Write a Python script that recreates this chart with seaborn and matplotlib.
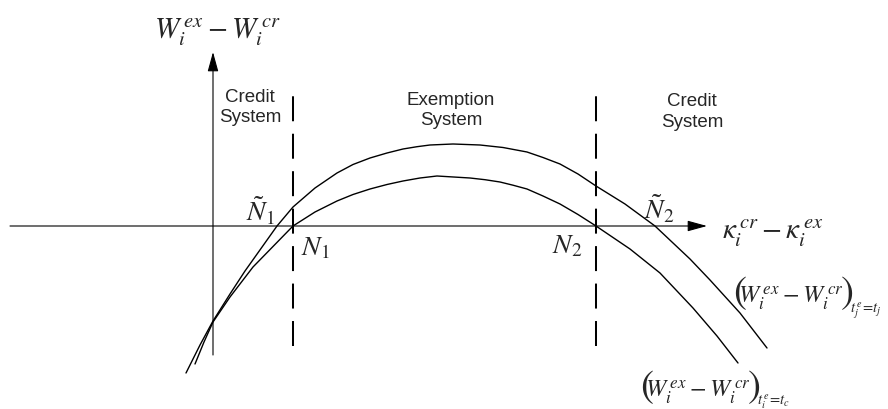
import matplotlib.pyplot as plt
import seaborn as sns

# schematic units: origin where the two axes cross, y upwards (1 unit ~ 1 px)
# outer curve  (W_i^ex - W_i^cr) for t_j^e = t_j
tilde_x = [-27, -13, 0, 17, 32, 64, 80, 102, 124, 140, 157, 174, 190, 204,
           217, 240, 267, 290, 314, 330, 347, 365, 383, 412, 442, 477, 497,
           527, 554]
tilde_y = [-147, -119, -95, -68, -45, 0, 19, 38, 53, 61.5, 68, 73, 77, 79.3,
           81, 82, 81, 78.5, 74, 68.5, 62, 52, 40, 22, 0, -33, -54,
           -87, -122]

# inner curve (W_i^ex - W_i^cr) for t_i^e = t_c
base_x = [-18, -9, 0, 17, 40, 80, 102, 124, 140, 157, 174, 190, 207, 224,
          257, 272, 287, 300, 314, 330, 347, 365, 383, 417, 447, 480, 504,
          525]
base_y = [-138, -116, -96, -71, -41, 0, 14, 25, 31.5, 37, 41.5, 45, 48, 50,
          48, 46.3, 44, 40.8, 37, 30, 22, 11.5, 0, -23, -47, -82, -110,
          -137]

# thresholds N1, N2 (dashed borders between the regimes)
thresholds = [80, 383]
regime_labels = ['Credit\nSystem', 'Exemption\nSystem', 'Credit\nSystem']

sns.set_style('white')
plt.rcParams['mathtext.fontset'] = 'stix'
plt.rcParams['font.family'] = ['Liberation Sans', 'DejaVu Sans']

fig = plt.figure(figsize=(8.88, 4.10), dpi=100)
ax = fig.add_axes([0, 0, 1, 1])
ax.set_xlim(-213, 675)
ax.set_ylim(-183, 227)
ax.axis('off')

# the two welfare-difference curves
sns.lineplot(x=tilde_x, y=tilde_y, ax=ax, color='black', linewidth=1.0,
             sort=False, estimator=None)
sns.lineplot(x=base_x, y=base_y, ax=ax, color='black', linewidth=1.0,
             sort=False, estimator=None)

# dashed regime borders
ax.vlines(thresholds, -120, 138, colors='black', linewidth=1.45,
          linestyles=(0, (12.4, 6.2)))

# coordinate axes with arrow heads
arrow = dict(arrowstyle='-|>,head_length=1.2,head_width=0.33',
             mutation_scale=10, lw=0.8, color='black',
             shrinkA=0, shrinkB=0)
ax.annotate('', xy=(494, 0), xytext=(-203, 0), arrowprops=arrow)
ax.annotate('', xy=(0, 174), xytext=(0, -129), arrowprops=arrow)

# axis titles
ax.text(68, 189, r'$W_i^{\,ex}-W_i^{\,cr}$', fontsize=21,
        ha='right', va='baseline')
ax.text(509, -12, r'$\kappa_i^{\,cr}-\kappa_i^{\,ex}$', fontsize=21,
        ha='left', va='baseline')

# regime names
ax.text(37, 119.5, regime_labels[0], fontsize=13.5, ha='center',
        va='center', linespacing=1.3)
ax.text(238, 116.5, regime_labels[1], fontsize=13.5, ha='center',
        va='center', linespacing=1.3)
ax.text(479, 115.3, regime_labels[2], fontsize=13.5, ha='center',
        va='center', linespacing=1.3)

# roots
ax.text(33, 6, r'$\tilde{N}_1$', fontsize=20, ha='left', va='baseline')
ax.text(88, -28, r'$N_1$', fontsize=20, ha='left', va='baseline')
ax.text(339, -26, r'$N_2$', fontsize=20, ha='left', va='baseline')
ax.text(431, 8, r'$\tilde{N}_2$', fontsize=20, ha='left', va='baseline')

# curve names: big parentheses, body and a small subscript, set one after another
fig.canvas.draw()
renderer = fig.canvas.get_renderer()
inv = ax.transData.inverted()


def right_edge(t):
    bb = t.get_window_extent(renderer)
    return inv.transform((bb.x1, bb.y0))[0]


def curve_label(x, y, sub, sub_drop):
    ax.text(x, y, r'$($', fontsize=28, ha='left', va='baseline')
    t = ax.text(x + 5, y, r'$W_i^{\,ex}-W_i^{\,cr}$', fontsize=17.5,
                ha='left', va='baseline')
    t = ax.text(right_edge(t) - 4, y, r'$)$', fontsize=28,
                ha='left', va='baseline')
    ax.text(right_edge(t) - 3, y - sub_drop, sub, fontsize=10.5,
            ha='left', va='baseline')


curve_label(520, -76, r'$t_j^{\,e}\!=\!t_j$', 10)
curve_label(427, -170, r'$t_i^{\,e}\!=\!t_c$', 8)

fig.savefig('out.png', dpi=100)
